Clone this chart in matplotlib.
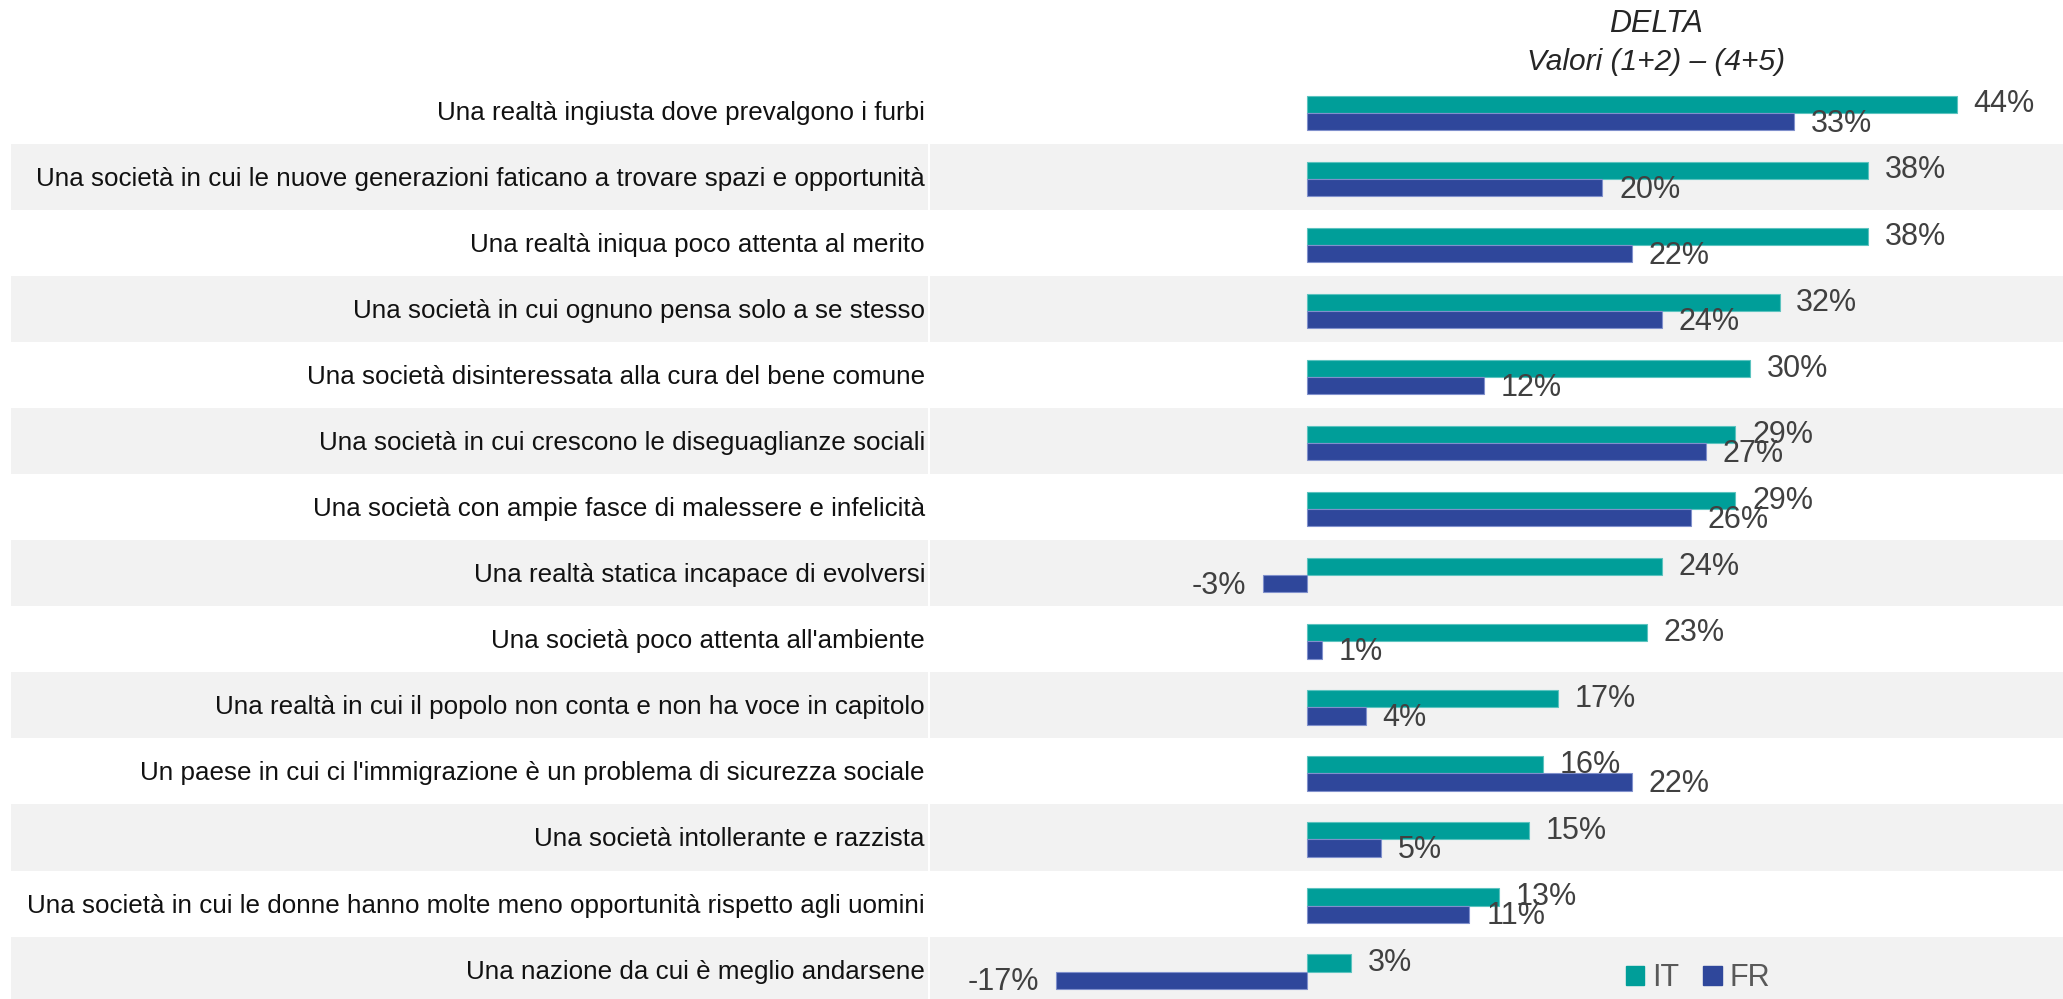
import numpy as np
import matplotlib
matplotlib.use("Agg")
import matplotlib.pyplot as plt
from matplotlib.patches import Rectangle
from matplotlib.transforms import blended_transform_factory

# data (DELTA = (1+2) - (4+5))
categories = [
    "Una realtà ingiusta dove prevalgono i furbi",
    "Una società in cui le nuove generazioni faticano a trovare spazi e opportunità",
    "Una realtà iniqua poco attenta al merito",
    "Una società in cui ognuno pensa solo a se stesso",
    "Una società disinteressata alla cura del bene comune",
    "Una società in cui crescono le diseguaglianze sociali",
    "Una società con ampie fasce di malessere e infelicità",
    "Una realtà statica incapace di evolversi",
    "Una società poco attenta all'ambiente",
    "Una realtà in cui il popolo non conta e non ha voce in capitolo",
    "Un paese in cui ci l'immigrazione è un problema di sicurezza sociale",
    "Una società intollerante e razzista",
    "Una società in cui le donne hanno molte meno opportunità rispetto agli uomini",
    "Una nazione da cui è meglio andarsene",
]
it_values = [44, 38, 38, 32, 30, 29, 29, 24, 23, 17, 16, 15, 13, 3]
fr_values = [33, 20, 22, 24, 12, 27, 26, -3, 1, 4, 22, 5, 11, -17]
series_names = ["IT", "FR"]

teal = "#009E99"
blue = "#2F479B"
band = "#F2F2F2"

W, H = 2063, 999
fig = plt.figure(figsize=(W / 100, H / 100), dpi=100)
ax = fig.add_axes([930 / W, -3.6 / H, 1 - 930 / W, 924.6 / H])

y = np.arange(len(categories))
bh = 0.26
off = 0.03

# alternating grey bands (bar area + label area)
lab_tr = blended_transform_factory(fig.transFigure, ax.transData)
for i in y:
    if i % 2 == 1:
        ax.axhspan(i - 0.5, i + 0.5, color=band, zorder=0, lw=0)
        ax.add_patch(Rectangle((10.5 / W, i - 0.5), (927.5 - 10.5) / W, 1.0,
                               transform=lab_tr, facecolor=band, lw=0,
                               clip_on=False, zorder=0))

ax.barh(y + off - bh / 2, it_values, height=bh, color=teal,
        edgecolor="#5CC3BF", linewidth=0.8, zorder=2)
ax.barh(y + off + bh / 2, fr_values, height=bh, color=blue,
        edgecolor="#8090CC", linewidth=0.8, zorder=2)

val_font = dict(fontsize=22, color="#404040", family="Liberation Sans")
for i in y:
    for v, yy in ((it_values[i], i + off - bh / 2), (fr_values[i], i + off + bh / 2 + 0.03)):
        if v >= 0:
            ax.annotate(f"{v}%", (v, yy), xytext=(12, 0), textcoords="offset points",
                        ha="left", va="center", zorder=3, **val_font)
        else:
            ax.annotate(f"{v}%", (v, yy), xytext=(-12, 0), textcoords="offset points",
                        ha="right", va="center", zorder=3, **val_font)

# category labels: narrow font not available, so fit the longest label width
labels = []
for i, c in enumerate(categories):
    labels.append(ax.text(925 / W, i + 0.03, c, transform=lab_tr, ha="right",
                          va="center", fontsize=20, color="#111111",
                          family="Liberation Sans"))
renderer = fig.canvas.get_renderer()
longest = max(t.get_window_extent(renderer).width for t in labels)
fs = 20 * 896 / longest
for t in labels:
    t.set_fontsize(fs)

ax.set_xlim(-25.52, 51.18)
ax.set_ylim(len(categories) - 0.5, -0.5)
ax.axis("off")

fig.text(1656 / W, 1 - 24 / H, "DELTA", ha="center", va="center", fontsize=22,
         style="italic", color="#262626", family="Liberation Sans")
fig.text(1656 / W, 1 - 62 / H, "Valori (1+2) – (4+5)", ha="center", va="center",
         fontsize=21.5, style="italic", color="#262626", family="Liberation Sans")

handles = [Rectangle((0, 0), 1, 1, color=teal), Rectangle((0, 0), 1, 1, color=blue)]
fig.legend(handles, series_names, loc="center", bbox_to_anchor=(1698 / W, 1 - 978 / H),
           ncol=2, frameon=False, handlelength=0.6, handleheight=0.6,
           handletextpad=0.25, columnspacing=0.8,
           prop={"family": "Liberation Sans", "size": 22}, labelcolor="#595959")

fig.savefig("out.png", dpi=100)
